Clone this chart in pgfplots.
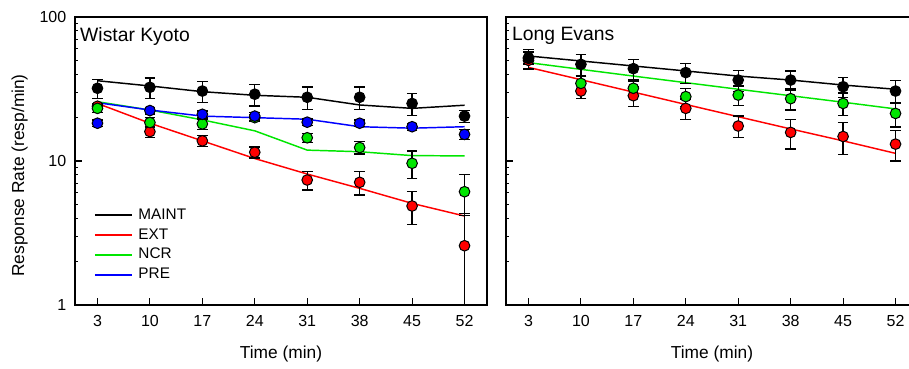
\documentclass[border=0pt]{standalone}
\usepackage{fontspec}
\setmainfont{Liberation Sans}
\usepackage{pgfplots}
\pgfplotsset{compat=1.18}
\definecolor{ngreen}{RGB}{0,230,0}
\definecolor{nred}{RGB}{255,0,0}
\definecolor{nblue}{RGB}{0,0,255}
\pgfplotsset{
 panel/.style={
  scale only axis, width=309pt, height=216pt,
  xmin=0, xmax=55, ymin=1, ymax=100,
  xtick={3,10,17,24,31,38,45,52},
  ytick={1,10,100},
  tick align=inside, xtick pos=bottom, ytick pos=left,
  major tick length=5pt, minor tick length=2.5pt,
  tick style={black, line width=0.8pt},
  axis line style={line width=0.9pt},
  tick label style={font=\fontsize{12}{14}\selectfont},
  xticklabel style={yshift=-4.5pt},
  yticklabel style={xshift=-3pt},
  label style={font=\fontsize{13}{15}\selectfont},
  xlabel style={yshift=-7.5pt},
  ylabel style={at={(ticklabel cs:0.45)}},
  ylabel shift=2pt,
  xlabel={Time (min)},
  clip=true,
 },
 fitline/.style={line width=1.1pt, no markers},
 dots/.style={only marks, black, mark=*, mark size=4pt,
   mark options={draw=black, line width=0.75pt, fill=#1},
   error bars/y dir=both, error bars/y explicit,
   error bars/error bar style={black, line width=1pt},
   error bars/error mark options={black, line width=1pt, mark size=4pt, rotate=90}},
}
\begin{document}
\begin{tikzpicture}
\begin{semilogyaxis}[panel, at={(56.25pt,47.25pt)}, anchor=south west,
  /pgf/number format/assume math mode=true,
  ylabel={Response Rate (resp/min)}, yticklabels={1,10,100},
  legend style={at={(axis description cs:0.045,0.342)}, anchor=north west, draw=none, fill=none,
    font=\fontsize{11.5}{13}\selectfont, row sep=1.8pt, column sep=3pt, inner sep=0pt,
    nodes={inner sep=1pt, text height=8.5pt, text depth=2.5pt}},
  legend cell align=left,
  legend image code/.code={\draw[#1, line width=1.5pt] (0pt,0pt) -- (28pt,0pt);}]
\addplot[fitline, black] coordinates {(3,36.1)(10,33.2)(17,30.3)(24,28.6)(31,27.7)(38,24.5)(45,23.2)(52,24.4)};
\addlegendentry{MAINT}
\addplot[fitline, nred] coordinates {(3,25.1)(10,18.3)(17,13.8)(24,10.4)(31,8.12)(38,6.46)(45,5.08)(52,4.15)};
\addlegendentry{EXT}
\addplot[fitline, ngreen] coordinates {(3,25.8)(10,22.6)(17,19.3)(24,16.2)(31,11.9)(38,11.6)(45,10.9)(52,10.85)};
\addlegendentry{NCR}
\addplot[fitline, nblue] coordinates {(3,25.4)(10,22.6)(17,20.5)(24,20.0)(31,19.5)(38,17.3)(45,16.9)(52,17.3)};
\addlegendentry{PRE}
\addplot[dots=nred, forget plot] coordinates {(3,24) +- (0,1) (10,16.0) +- (0,1.4) (17,13.8) +- (0,1.2) (24,11.5) +- (0,1.0) (31,7.38) +- (0,1.1) (38,7.11) +- (0,1.3) (45,4.87) +- (0,1.25) (52,2.58) +- (0,1.75)};
\addplot[dots=ngreen, forget plot] coordinates {(3,23.2) +- (0,1.5) (10,18.5) +- (0,1.5) (17,18.1) +- (0,1.5) (24,20) +- (0,1) (31,14.5) +- (0,1.0) (38,12.4) +- (0,1.2) (45,9.64) +- (0,2.1) (52,6.12) +- (0,1.95)};
\addplot[dots=nblue, forget plot] coordinates {(3,18.3) +- (0,1) (10,22.4) +- (0,1.2) (17,21.1) +- (0,1.2) (24,20.5) +- (0,1.3) (31,18.6) +- (0,1) (38,18.3) +- (0,1) (45,17.3) +- (0,1) (52,15.3) +- (0,1.2)};
\addplot[dots=black, forget plot] coordinates {(3,32.0) +- (0,4.7) (10,32.5) +- (0,5.3) (17,30.6) +- (0,5) (24,29.1) +- (0,5) (31,27.7) +- (0,5) (38,27.7) +- (0,5) (45,25.1) +- (0,4.4) (52,20.5) +- (0,2)};
\node[anchor=north west, inner sep=0pt, font=\fontsize{14.5}{16}\selectfont] at (rel axis cs:0.012,0.965) {Wistar Kyoto};
\end{semilogyaxis}
\begin{semilogyaxis}[panel, at={(379.5pt,47.25pt)}, anchor=south west,
  /pgf/number format/assume math mode=true, yticklabels={}]
\addplot[fitline, black] coordinates {(3,53.6)(10,49.5)(17,45.7)(24,42.2)(31,38.9)(38,36.5)(45,33.7)(52,31.5)};
\addplot[fitline, nred] coordinates {(3,44.7)(10,36.7)(17,30.1)(24,24.7)(31,20.3)(38,16.7)(45,13.8)(52,11.3)};
\addplot[fitline, ngreen] coordinates {(3,48.2)(10,43.3)(17,38.9)(24,35.0)(31,31.5)(38,28.4)(45,25.6)(52,23.0)};
\addplot[dots=nred] coordinates {(3,50) +- (0,3) (10,30.6) +- (0,3.5) (17,28.4) +- (0,4.5) (24,23.2) +- (0,3.8) (31,17.5) +- (0,3) (38,15.8) +- (0,3.7) (45,14.8) +- (0,3.7) (52,13.1) +- (0,3.1)};
\addplot[dots=ngreen] coordinates {(3,52.2) +- (0,5) (10,34.6) +- (0,4.5) (17,32.0) +- (0,4) (24,28.0) +- (0,4) (31,28.7) +- (0,4.5) (38,27.1) +- (0,4.5) (45,25.1) +- (0,4.5) (52,21.4) +- (0,4.2)};
\addplot[dots=black] coordinates {(3,51.6) +- (0,8) (10,46.9) +- (0,8) (17,43.8) +- (0,7) (24,41.1) +- (0,6.6) (31,36.5) +- (0,6) (38,36.5) +- (0,5.7) (45,32.8) +- (0,5.3) (52,30.6) +- (0,5.5)};
\node[anchor=north west, inner sep=0pt, font=\fontsize{14.5}{16}\selectfont] at (rel axis cs:0.0145,0.965) {Long Evans};
\end{semilogyaxis}
\pgfresetboundingbox
\path[use as bounding box] (0,0) rectangle (681.75pt,276pt);
\end{tikzpicture}
\end{document}
